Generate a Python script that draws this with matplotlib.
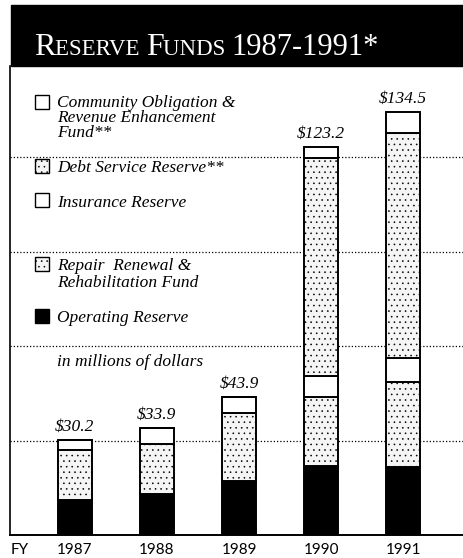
import matplotlib.pyplot as plt
from matplotlib.patches import Rectangle

# reserve fund balances, millions of dollars
years = ["1987", "1988", "1989", "1990", "1991"]
operating = [11.1, 13.0, 17.0, 21.9, 21.5]
repair = [15.9, 15.9, 21.7, 22.1, 27.2]
insurance = [3.2, 5.0, 5.2, 6.6, 7.5]
debt_service = [0.0, 0.0, 0.0, 69.2, 71.5]
community = [0.0, 0.0, 0.0, 3.4, 6.8]
totals = [30.2, 33.9, 43.9, 123.2, 134.5]
grid_levels = [30, 60, 90, 120]

W, H = 464, 558
SERIF = "Liberation Serif"
SANS = "Lato"
STIPPLE = "#f5f5f5"

plt.rcParams["hatch.linewidth"] = 0.4
plt.rcParams["hatch.color"] = "#cfcfcf"

fig = plt.figure(figsize=(W / 100, H / 100), dpi=100)


def fx(px):
    return px / W


def fy(py):
    return 1 - py / H


# black title band
fig.patches.append(Rectangle((fx(11), fy(66)), 1 - fx(11), fy(5) - fy(66),
                             transform=fig.transFigure, color="black", zorder=0))
title_y = fy(55)
x0 = fx(34)
parts = [("R", 23), ("ESERVE ", 16.5), ("F", 23), ("UNDS ", 16.5), ("1987-1991*", 22)]
r = fig.canvas.get_renderer()
for txt, size in parts:
    t = fig.text(x0, title_y, txt, color="white", fontsize=size, family=SERIF,
                 ha="left", va="baseline")
    bb = t.get_window_extent(renderer=r)
    x0 += bb.width / W

ax = fig.add_axes([fx(10), 1 - 535 / H, fx(454), (535 - 66) / H])
ax.set_xlim(-0.79, 4.74)
ax.set_ylim(0, 149)

x = list(range(len(years)))
width = 0.415
layers = [
    (operating, "black", None),
    (repair, STIPPLE, "..."),
    (insurance, "white", None),
    (debt_service, STIPPLE, "..."),
    (community, "white", None),
]
bottom = [0.0] * len(years)
for vals, color, hatch in layers:
    ax.bar(x, vals, width, bottom=bottom, color=color, hatch=hatch,
           edgecolor="black", linewidth=1.4, zorder=3)
    bottom = [b + v for b, v in zip(bottom, vals)]

for xi, tot in zip(x, totals):
    ax.text(xi, tot + 1.6, f"${tot}", ha="center", va="bottom",
            fontsize=12.5, style="italic", family=SERIF)

for lvl in grid_levels:
    ax.axhline(lvl, color="black", linewidth=0.9, linestyle=(0, (1, 1.6)), zorder=1)

for side in ["top", "right"]:
    ax.spines[side].set_visible(False)
ax.spines["left"].set_linewidth(1.2)
ax.spines["bottom"].set_linewidth(1.4)
ax.set_yticks([])
ax.set_xticks(x)
ax.set_xticklabels(years, family=SANS, fontsize=11)
ax.tick_params(axis="x", length=0, pad=6)
fig.text(fx(11), fy(550), "FY", family=SANS, fontsize=11, ha="left", va="center")

# legend keys: (text lines, fill, hatch, square centre y, line centre ys)
legend = [
    (["Community Obligation &", "Revenue Enhancement", "Fund**"], "white", None,
     102, [103, 118, 133]),
    (["Debt Service Reserve**"], STIPPLE, "...", 166, [168]),
    (["Insurance Reserve"], "white", None, 200, [203]),
    (["Repair  Renewal &", "Rehabilitation Fund"], STIPPLE, "...", 264, [266, 283]),
    (["Operating Reserve"], "black", None, 316, [318]),
]
for lines, color, hatch, sq, ys in legend:
    fig.patches.append(Rectangle((fx(35), fy(sq + 7)), fx(14), 14 / H,
                                 transform=fig.transFigure, facecolor=color,
                                 hatch=hatch, edgecolor="black", linewidth=1.0,
                                 zorder=5))
    for line, ly in zip(lines, ys):
        fig.text(fx(57), fy(ly), line, family=SERIF, style="italic",
                 fontsize=12.5, ha="left", va="center", zorder=5)

fig.text(fx(57), fy(362), "in millions of dollars", family=SERIF,
         style="italic", fontsize=12.5, ha="left", va="center")

fig.savefig("out.png", dpi=100)
